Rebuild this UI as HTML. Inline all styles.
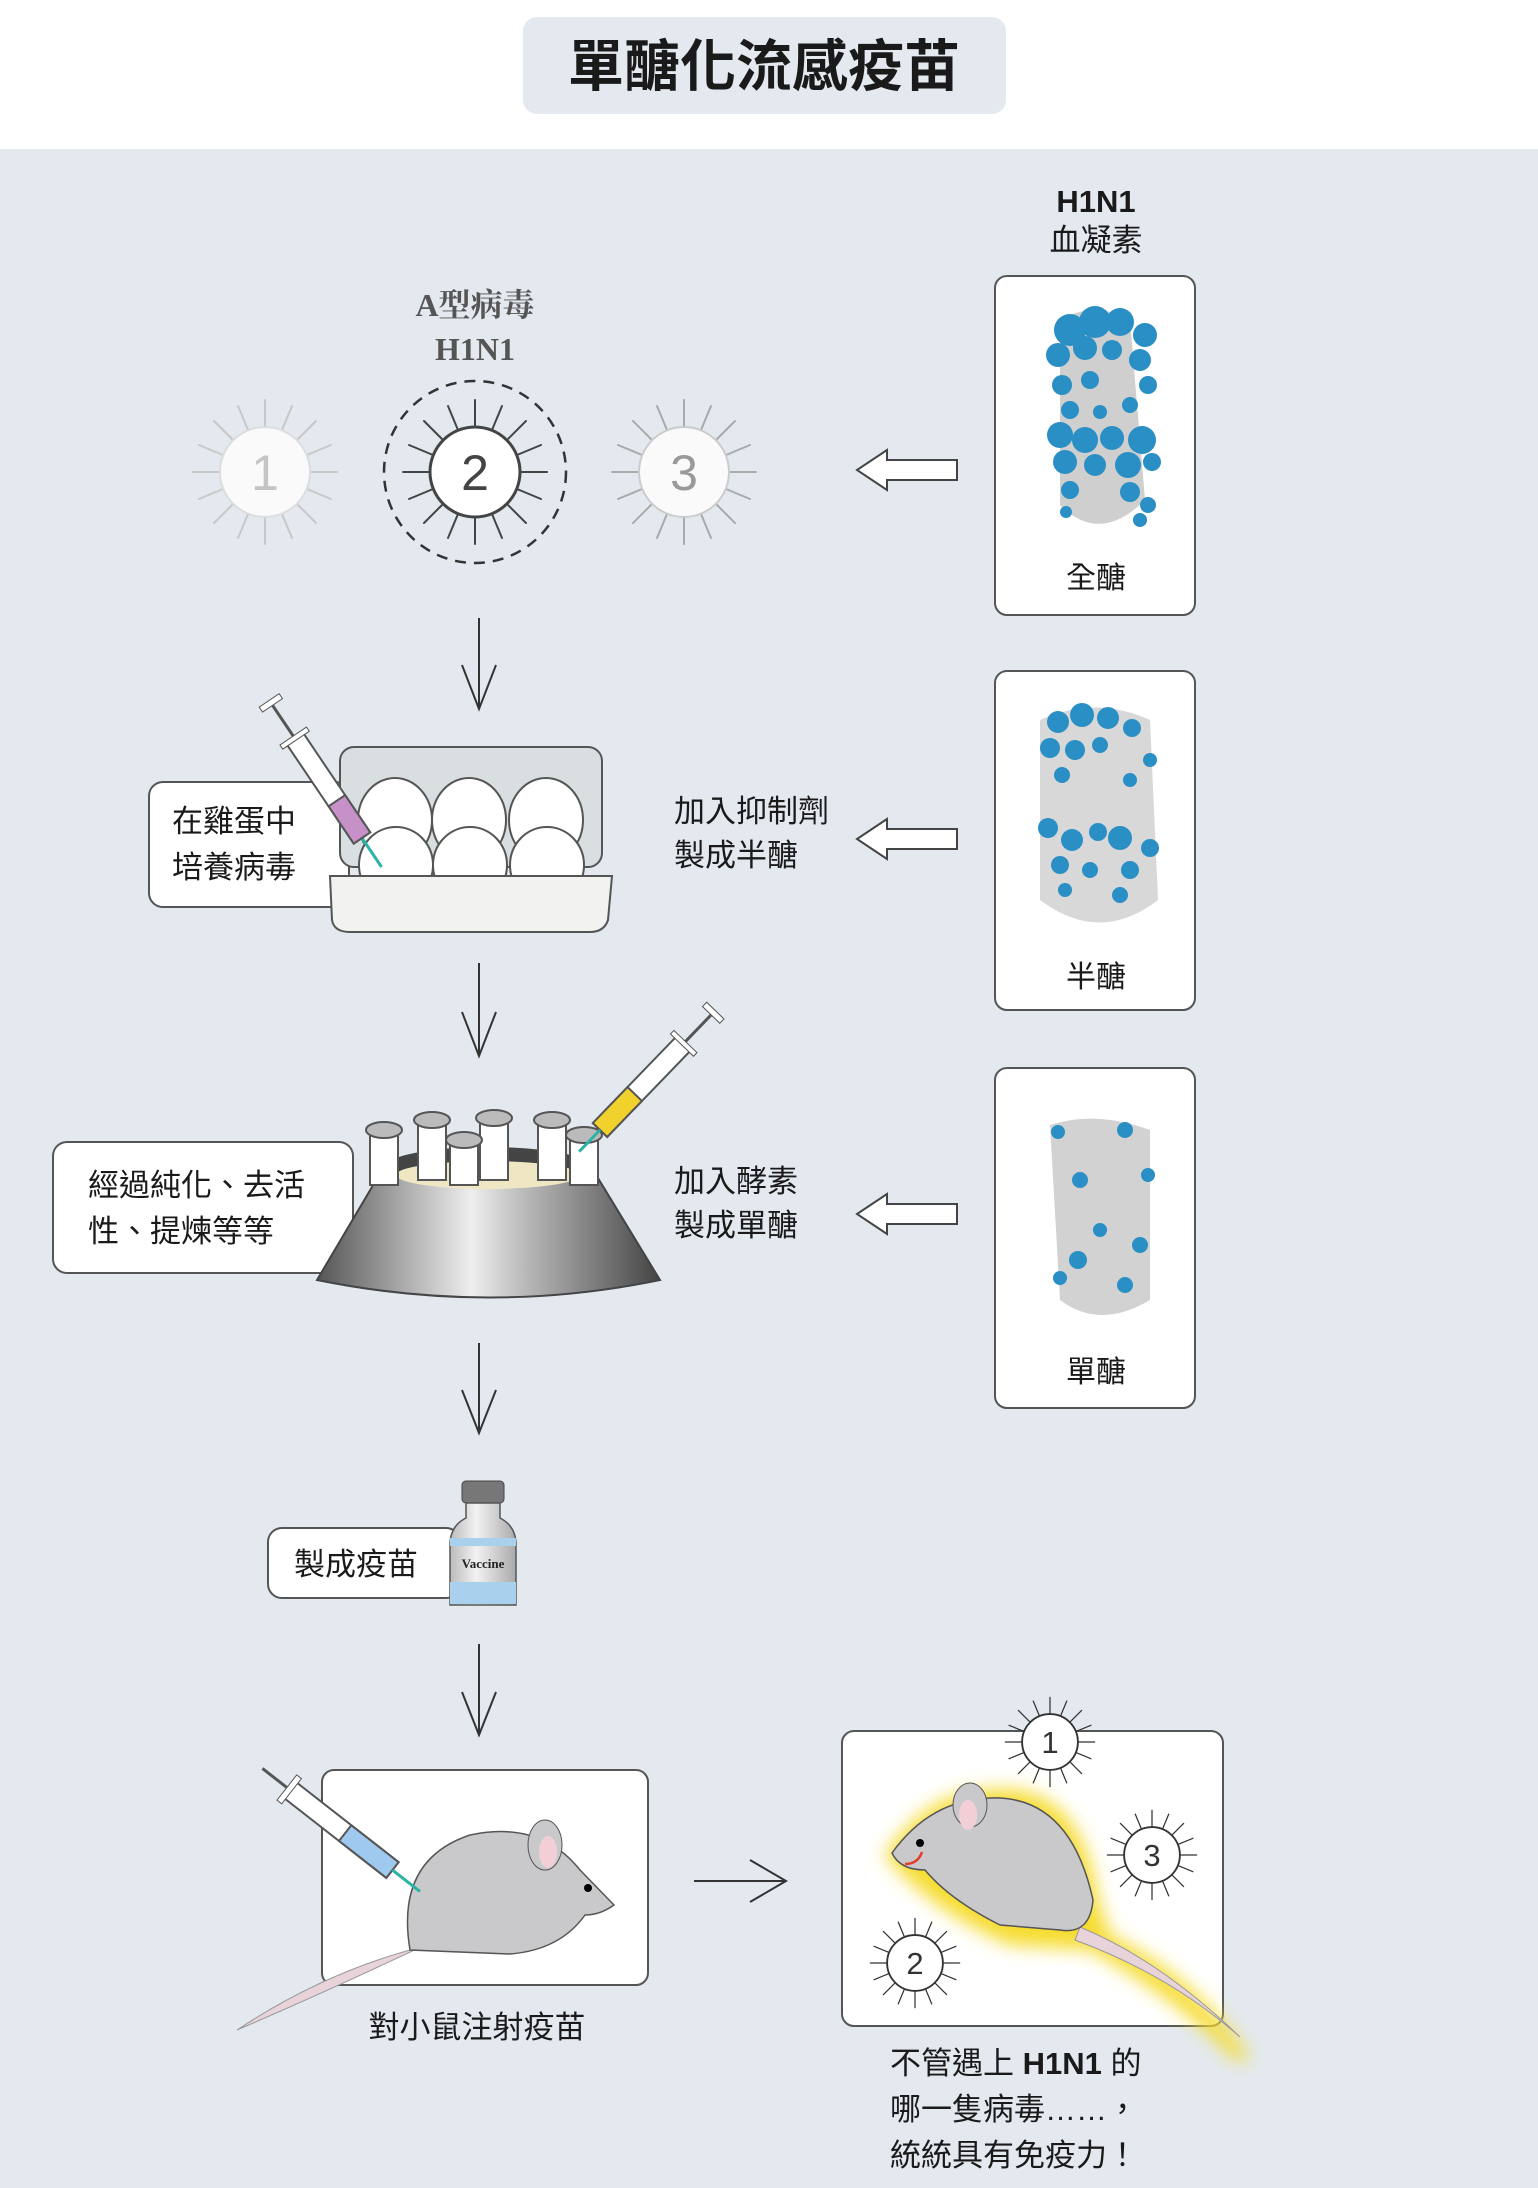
<!DOCTYPE html>
<html><head><meta charset="utf-8"><style>
html,body{margin:0;padding:0;}
body{width:1538px;height:2188px;overflow:hidden;background:#e3e9ef;}
svg{display:block}
.t{font-family:"Liberation Sans","Noto Sans CJK TC",sans-serif;fill:#1a1a1a;}
</style></head><body>
<svg width="1538" height="2188" viewBox="0 0 1538 2188" xmlns="http://www.w3.org/2000/svg">
<defs>
<symbol id="spk" overflow="visible">
<g stroke-width="2" stroke-linecap="round">
<line x1="0" y1="-45" x2="0" y2="-72"/><line x1="0" y1="45" x2="0" y2="72"/>
<line x1="-45" y1="0" x2="-72" y2="0"/><line x1="45" y1="0" x2="72" y2="0"/>
<line x1="32" y1="-32" x2="51" y2="-51"/><line x1="-32" y1="-32" x2="-51" y2="-51"/>
<line x1="32" y1="32" x2="51" y2="51"/><line x1="-32" y1="32" x2="-51" y2="51"/>
<line x1="17" y1="-42" x2="27" y2="-66"/><line x1="-17" y1="42" x2="-27" y2="66"/>
<line x1="42" y1="17" x2="66" y2="27"/><line x1="-42" y1="-17" x2="-66" y2="-27"/>
<line x1="-17" y1="-42" x2="-27" y2="-66"/><line x1="17" y1="42" x2="27" y2="66"/>
<line x1="42" y1="-17" x2="66" y2="-27"/><line x1="-42" y1="17" x2="-66" y2="27"/>
</g></symbol>
<linearGradient id="bowl" x1="0" x2="1"><stop offset="0" stop-color="#555"/><stop offset="0.45" stop-color="#eee"/><stop offset="0.6" stop-color="#bbb"/><stop offset="1" stop-color="#444"/></linearGradient>
<linearGradient id="vial" x1="0" x2="1"><stop offset="0" stop-color="#bbb"/><stop offset="0.4" stop-color="#f2f2f2"/><stop offset="1" stop-color="#aaa"/></linearGradient>
<filter id="glow" x="-30%" y="-30%" width="160%" height="160%"><feGaussianBlur stdDeviation="9"/></filter>
</defs>
<rect x="0" y="0" width="1538" height="149" fill="#fff"/>
<rect x="523" y="17" width="483" height="97" rx="14" fill="#e3e9ef"/>
<text x="764" y="86" text-anchor="middle" class="t" font-size="56" font-weight="bold">單醣化流感疫苗</text>

<text x="1096" y="212" text-anchor="middle" class="t" font-size="31" font-weight="bold">H1N1</text>
<text x="1096" y="251" text-anchor="middle" class="t" font-size="31">血凝素</text>

<text x="475" y="316" text-anchor="middle" font-family="Liberation Serif,'Noto Serif CJK SC',serif" font-weight="bold" font-size="32" fill="#555">A型病毒</text>
<text x="475" y="360" text-anchor="middle" font-family="Liberation Serif,serif" font-weight="bold" font-size="32" fill="#555">H1N1</text>

<g transform="translate(265,472)"><use href="#spk" stroke="#c8c8c8"/><circle r="45" fill="#fafafa" stroke="#ddd" stroke-width="2"/><text y="18" text-anchor="middle" class="t" font-size="50" style="fill:#c4c4c4">1</text></g>
<circle cx="475" cy="472" r="91" fill="none" stroke="#333" stroke-width="2.5" stroke-dasharray="11 8"/>
<g transform="translate(475,472)"><use href="#spk" stroke="#444"/><circle r="45" fill="#fff" stroke="#444" stroke-width="3"/><text y="18" text-anchor="middle" class="t" font-size="50" style="fill:#444">2</text></g>
<g transform="translate(684,472)"><use href="#spk" stroke="#aaa"/><circle r="45" fill="#fafafa" stroke="#ccc" stroke-width="2"/><text y="18" text-anchor="middle" class="t" font-size="50" style="fill:#999">3</text></g>

<g fill="#fff" stroke="#555" stroke-width="2">
<rect x="995" y="276" width="200" height="339" rx="12"/>
<rect x="995" y="671" width="200" height="339" rx="12"/>
<rect x="995" y="1068" width="200" height="340" rx="12"/>
</g>
<!-- protein 1 -->
<g>
<path d="M1060 320 Q1095 300 1130 320 L1145 500 Q1100 545 1060 505 Z" fill="#cfcfcf"/>
<g fill="#2a8fc4">
<circle cx="1070" cy="330" r="16"/><circle cx="1095" cy="322" r="16"/><circle cx="1120" cy="322" r="14"/><circle cx="1145" cy="335" r="12"/>
<circle cx="1058" cy="355" r="12"/><circle cx="1085" cy="348" r="12"/><circle cx="1112" cy="350" r="10"/><circle cx="1140" cy="360" r="11"/>
<circle cx="1062" cy="385" r="10"/><circle cx="1090" cy="380" r="9"/><circle cx="1148" cy="385" r="9"/><circle cx="1070" cy="410" r="9"/>
<circle cx="1130" cy="405" r="8"/><circle cx="1100" cy="412" r="7"/>
<circle cx="1060" cy="435" r="13"/><circle cx="1085" cy="440" r="13"/><circle cx="1112" cy="438" r="12"/><circle cx="1142" cy="440" r="14"/>
<circle cx="1065" cy="462" r="12"/><circle cx="1095" cy="465" r="11"/><circle cx="1128" cy="465" r="13"/><circle cx="1152" cy="462" r="9"/>
<circle cx="1070" cy="490" r="9"/><circle cx="1130" cy="492" r="10"/><circle cx="1148" cy="505" r="8"/><circle cx="1066" cy="512" r="6"/><circle cx="1140" cy="520" r="7"/>
</g></g>
<text x="1096" y="588" text-anchor="middle" class="t" font-size="30">全醣</text>
<!-- protein 2 -->
<g>
<path d="M1040 720 Q1095 695 1150 720 L1158 900 Q1100 945 1040 900 Z" fill="#d8d8d8"/>
<g fill="#2a8fc4">
<circle cx="1058" cy="722" r="11"/><circle cx="1082" cy="715" r="12"/><circle cx="1108" cy="718" r="11"/><circle cx="1132" cy="728" r="9"/>
<circle cx="1050" cy="748" r="10"/><circle cx="1075" cy="750" r="10"/><circle cx="1100" cy="745" r="8"/><circle cx="1150" cy="760" r="7"/>
<circle cx="1062" cy="775" r="8"/><circle cx="1130" cy="780" r="7"/>
<circle cx="1048" cy="828" r="10"/><circle cx="1072" cy="840" r="11"/><circle cx="1098" cy="832" r="9"/><circle cx="1120" cy="838" r="12"/><circle cx="1150" cy="848" r="9"/>
<circle cx="1060" cy="865" r="9"/><circle cx="1090" cy="870" r="8"/><circle cx="1130" cy="870" r="9"/><circle cx="1065" cy="890" r="7"/><circle cx="1120" cy="895" r="8"/>
</g></g>
<text x="1096" y="987" text-anchor="middle" class="t" font-size="30">半醣</text>
<!-- protein 3 -->
<g>
<path d="M1050 1125 Q1095 1110 1150 1130 L1150 1300 Q1100 1330 1060 1300 Z" fill="#d2d2d2"/>
<g fill="#2a8fc4">
<circle cx="1058" cy="1132" r="7"/><circle cx="1125" cy="1130" r="8"/><circle cx="1080" cy="1180" r="8"/><circle cx="1148" cy="1175" r="7"/>
<circle cx="1100" cy="1230" r="7"/><circle cx="1140" cy="1245" r="8"/><circle cx="1078" cy="1260" r="9"/><circle cx="1060" cy="1278" r="7"/><circle cx="1125" cy="1285" r="8"/>
</g></g>
<text x="1096" y="1382" text-anchor="middle" class="t" font-size="30">單醣</text>

<g fill="#fff" stroke="#444" stroke-width="2">
<path d="M957 460 L887 460 L887 450 L857 470 L887 490 L887 480 L957 480 Z"/>
<path d="M957 829 L887 829 L887 819 L857 839 L887 859 L887 849 L957 849 Z"/>
<path d="M957 1204 L887 1204 L887 1194 L857 1214 L887 1234 L887 1224 L957 1224 Z"/>
</g>

<g stroke="#333" stroke-width="2" fill="none">
<path d="M479 618 L479 709 M462 665 L479 709 L496 665"/>
<path d="M479 963 L479 1056 M462 1012 L479 1056 L496 1012"/>
<path d="M479 1343 L479 1433 M462 1390 L479 1433 L496 1390"/>
<path d="M479 1644 L479 1735 M462 1692 L479 1735 L496 1692"/>
<path d="M694 1881 L786 1881 M750 1860 L786 1881 L750 1902"/>
</g>

<rect x="149" y="782" width="200" height="125" rx="14" fill="#fff" stroke="#555" stroke-width="2"/>
<text x="172" y="832" class="t" font-size="31">在雞蛋中</text>
<text x="172" y="878" class="t" font-size="31">培養病毒</text>
<g stroke="#555" stroke-width="2">
<rect x="340" y="747" width="262" height="120" rx="14" fill="#d9dee1"/>
<ellipse cx="395" cy="820" rx="37" ry="42" fill="#fff"/><ellipse cx="469" cy="820" rx="37" ry="42" fill="#fff"/><ellipse cx="546" cy="820" rx="37" ry="42" fill="#fff"/>
<ellipse cx="396" cy="865" rx="37" ry="38" fill="#fff"/><ellipse cx="470" cy="865" rx="37" ry="38" fill="#fff"/><ellipse cx="547" cy="865" rx="37" ry="38" fill="#fff"/>
<path d="M330 876 L612 876 L608 920 Q604 932 590 932 L350 932 Q334 932 332 920 Z" fill="#f2f2f0"/>
</g>
<g transform="translate(362,838) rotate(-124)">
<line x1="0" y1="0" x2="-35" y2="0" stroke="#2bb3a8" stroke-width="3"/>
<rect x="0" y="-10" width="120" height="20" fill="#fff" stroke="#555" stroke-width="2"/>
<rect x="0" y="-10" width="45" height="20" fill="#c691c8" stroke="#555" stroke-width="2"/>
<line x1="120" y1="0" x2="165" y2="0" stroke="#555" stroke-width="3"/>
<rect x="118" y="-16" width="5" height="32" fill="#fff" stroke="#555"/>
<rect x="160" y="-12" width="6" height="24" fill="#fff" stroke="#555"/>
</g>

<rect x="53" y="1142" width="300" height="131" rx="14" fill="#fff" stroke="#555" stroke-width="2"/>
<text x="88" y="1196" class="t" font-size="31">經過純化、去活</text>
<text x="88" y="1242" class="t" font-size="31">性、提煉等等</text>
<path d="M385 1165 L590 1165 L660 1280 Q490 1315 317 1280 Z" fill="url(#bowl)" stroke="#444" stroke-width="2"/>
<ellipse cx="488" cy="1167" rx="103" ry="20" fill="#444"/>
<ellipse cx="488" cy="1175" rx="92" ry="14" fill="#efe6c4"/>
<g fill="#fff" stroke="#555" stroke-width="2">
<rect x="370" y="1130" width="28" height="55"/><rect x="418" y="1120" width="28" height="60"/><rect x="480" y="1118" width="28" height="62"/>
<rect x="538" y="1120" width="28" height="60"/><rect x="570" y="1135" width="28" height="50"/><rect x="450" y="1140" width="28" height="45"/>
</g>
<g fill="#bbb" stroke="#555" stroke-width="2">
<ellipse cx="384" cy="1130" rx="18" ry="8"/><ellipse cx="432" cy="1120" rx="18" ry="8"/><ellipse cx="494" cy="1118" rx="18" ry="8"/>
<ellipse cx="552" cy="1120" rx="18" ry="8"/><ellipse cx="584" cy="1135" rx="18" ry="8"/><ellipse cx="464" cy="1140" rx="18" ry="8"/>
</g>
<g transform="translate(600,1130) rotate(-46)">
<rect x="0" y="-10" width="120" height="20" fill="#fff" stroke="#555" stroke-width="2"/>
<rect x="0" y="-10" width="50" height="20" fill="#f1d12c" stroke="#555" stroke-width="2"/>
<line x1="120" y1="0" x2="165" y2="0" stroke="#555" stroke-width="3"/>
<rect x="118" y="-16" width="5" height="32" fill="#fff" stroke="#555"/>
<rect x="160" y="-12" width="6" height="24" fill="#fff" stroke="#555"/>
<line x1="0" y1="0" x2="-30" y2="0" stroke="#2bb3a8" stroke-width="3"/>
</g>

<text x="674" y="822" class="t" font-size="31">加入抑制劑</text>
<text x="674" y="866" class="t" font-size="31">製成半醣</text>
<text x="674" y="1192" class="t" font-size="31">加入酵素</text>
<text x="674" y="1236" class="t" font-size="31">製成單醣</text>

<rect x="268" y="1528" width="192" height="70" rx="14" fill="#fff" stroke="#555" stroke-width="2"/>
<text x="294" y="1575" class="t" font-size="31">製成疫苗</text>
<rect x="462" y="1481" width="42" height="22" rx="4" fill="#777" stroke="#444"/>
<path d="M466 1503 L500 1503 L500 1518 Q516 1526 516 1545 L516 1605 L450 1605 L450 1545 Q450 1526 466 1518 Z" fill="url(#vial)" stroke="#555" stroke-width="1.5"/>
<rect x="450" y="1538" width="66" height="8" fill="#a9d0ec"/>
<rect x="450" y="1582" width="66" height="22" fill="#a9d0ec"/>
<text x="483" y="1568" text-anchor="middle" font-family="Liberation Serif,serif" font-weight="bold" font-size="13" fill="#222">Vaccine</text>

<rect x="322" y="1770" width="326" height="215" rx="12" fill="#fff" stroke="#555" stroke-width="2"/>
<path d="M425 1945 Q330 1990 237 2030 Q320 1975 410 1950 Z" fill="#e8d3da" stroke="#999"/>
<path d="M410 1950 Q395 1860 470 1835 Q540 1820 580 1870 L614 1905 Q600 1915 585 1915 Q560 1950 510 1954 Z" fill="#c9c9cc" stroke="#555" stroke-width="1.5"/>
<ellipse cx="545" cy="1845" rx="17" ry="25" fill="#c9c9cc" stroke="#555"/>
<ellipse cx="548" cy="1852" rx="9" ry="16" fill="#f2cfd7"/>
<circle cx="588" cy="1888" r="4" fill="#000"/>
<g transform="translate(290,1790) rotate(38)">
<rect x="0" y="-10" width="130" height="20" fill="#fff" stroke="#555" stroke-width="2"/>
<rect x="70" y="-10" width="60" height="20" fill="#9fc9ee" stroke="#555" stroke-width="2"/>
<line x1="-35" y1="0" x2="0" y2="0" stroke="#555" stroke-width="3"/>
<rect x="-4" y="-16" width="6" height="32" fill="#fff" stroke="#555"/>
<line x1="130" y1="0" x2="165" y2="0" stroke="#2bb3a8" stroke-width="3"/>
</g>
<text x="477" y="2038" text-anchor="middle" class="t" font-size="31">對小鼠注射疫苗</text>

<rect x="842" y="1731" width="381" height="295" rx="12" fill="#fff" stroke="#555" stroke-width="2"/>
<g filter="url(#glow)" fill="#f6dc2e">
<path d="M885 1855 Q930 1790 990 1790 Q1080 1780 1098 1900 L1110 1935 Q1200 1980 1250 2060 L1235 2060 Q1180 2000 1090 1950 L1010 1945 Q930 1910 885 1855 Z"/>
</g>
<path d="M1080 1927 Q1160 1960 1240 2037 Q1170 1975 1075 1940 Z" fill="#e8d3da" stroke="#999"/>
<path d="M892 1853 Q930 1800 990 1798 Q1070 1795 1093 1900 Q1090 1935 1060 1930 L1000 1925 Q950 1900 925 1870 Q900 1870 892 1853 Z" fill="#c9c9cc" stroke="#555" stroke-width="1.5"/>
<ellipse cx="970" cy="1805" rx="17" ry="22" fill="#c9c9cc" stroke="#555"/>
<ellipse cx="968" cy="1815" rx="9" ry="15" fill="#f2cfd7"/>
<circle cx="920" cy="1843" r="4" fill="#000"/>
<path d="M905 1864 Q918 1864 922 1852" stroke="#e53b2b" stroke-width="2.5" fill="none"/>
<g transform="translate(1050,1742) scale(0.62)"><use href="#spk" stroke="#333"/><circle r="45" fill="#fff" stroke="#333" stroke-width="3"/><text y="18" text-anchor="middle" class="t" font-size="50" style="fill:#333">1</text></g>
<g transform="translate(1152,1855) scale(0.62)"><use href="#spk" stroke="#333"/><circle r="45" fill="#fff" stroke="#333" stroke-width="3"/><text y="18" text-anchor="middle" class="t" font-size="50" style="fill:#333">3</text></g>
<g transform="translate(915,1963) scale(0.62)"><use href="#spk" stroke="#333"/><circle r="45" fill="#fff" stroke="#333" stroke-width="3"/><text y="18" text-anchor="middle" class="t" font-size="50" style="fill:#333">2</text></g>

<text x="890" y="2074" class="t" font-size="31">不管遇上 <tspan font-weight="bold">H1N1</tspan> 的</text>
<text x="890" y="2120" class="t" font-size="31">哪一隻病毒……，</text>
<text x="890" y="2166" class="t" font-size="31">統統具有免疫力！</text>
</svg>
</body></html>
